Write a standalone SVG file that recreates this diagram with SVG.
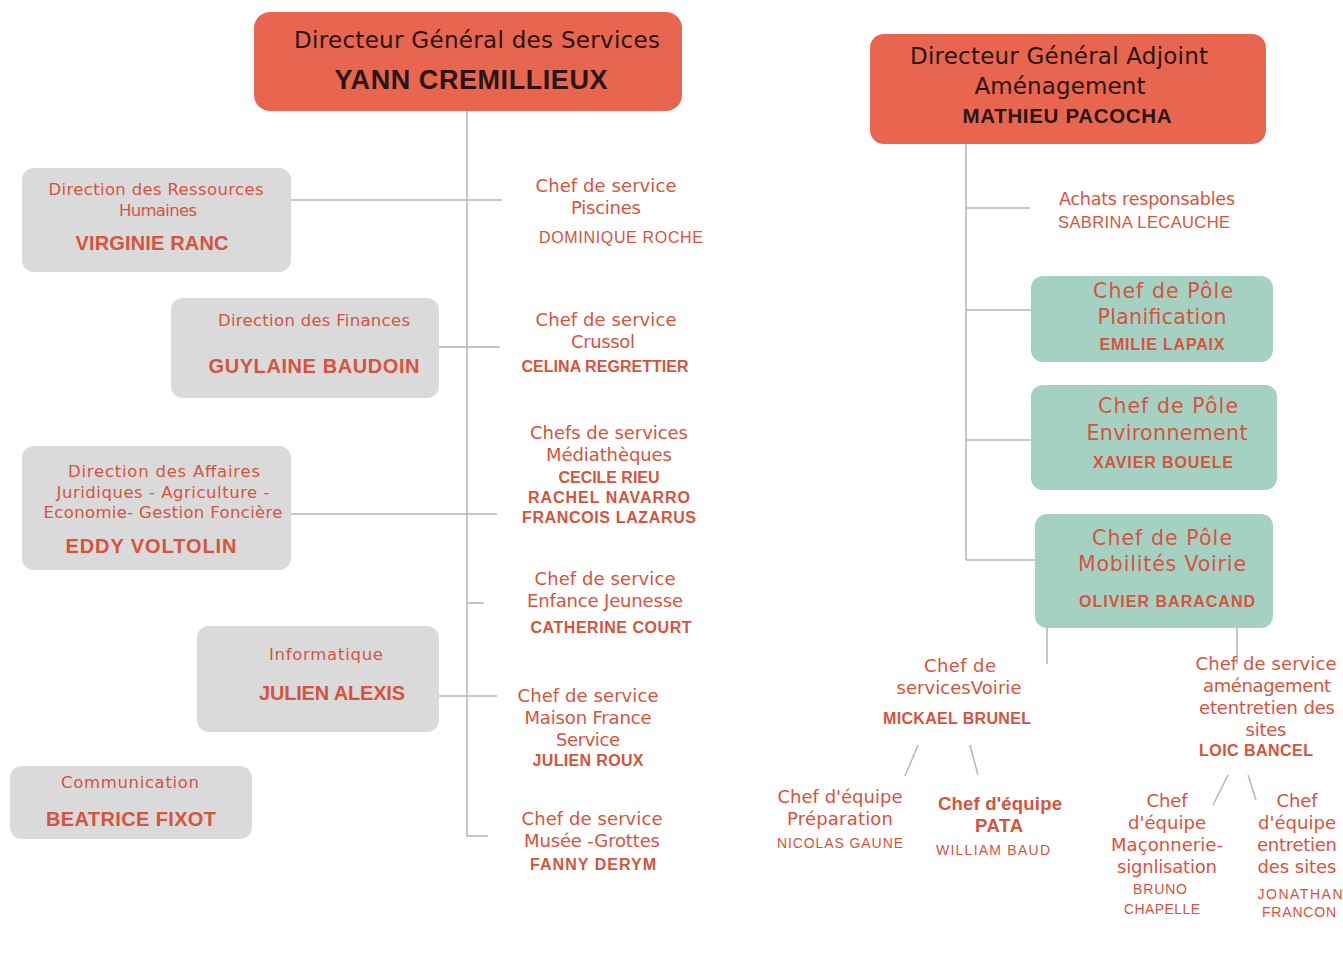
<svg xmlns="http://www.w3.org/2000/svg" width="1343" height="957" viewBox="0 0 1343 957">
<style>
text{font-family:"DejaVu Sans","Open Sans",sans-serif;text-anchor:middle}
.nm{font-family:"Liberation Sans",Arial,sans-serif;font-weight:bold}
.sm{font-family:"Liberation Sans",Arial,sans-serif}
.head{fill:#e8664f}
.gray{fill:#dadada}
.teal{fill:#a5d1c2}
.dk{fill:#2a1512}
.c{fill:#d6533e}
.t18{font-size:18px}
.g{font-size:16.5px}
.p{font-size:20.5px}
.con line{stroke:#b2b6b9;stroke-width:1.5;fill:none}
</style>
<rect width="1343" height="957" fill="#ffffff"/>
<g class="con">
<line x1="467" y1="111" x2="467" y2="836"/>
<line x1="291" y1="200" x2="502" y2="200"/>
<line x1="439" y1="347" x2="500" y2="347"/>
<line x1="291" y1="514" x2="497" y2="514"/>
<line x1="467" y1="603" x2="484" y2="603"/>
<line x1="439" y1="696" x2="497" y2="696"/>
<line x1="467" y1="836" x2="488" y2="836"/>
<line x1="966" y1="144" x2="966" y2="560"/>
<line x1="966" y1="208" x2="1030" y2="208"/>
<line x1="966" y1="310" x2="1032" y2="310"/>
<line x1="966" y1="440" x2="1032" y2="440"/>
<line x1="966" y1="560" x2="1035" y2="560"/>
<line x1="1047" y1="628" x2="1047" y2="664"/>
<line x1="1237" y1="628" x2="1237" y2="664"/>
<line x1="918" y1="745" x2="905" y2="776"/>
<line x1="970" y1="745" x2="978" y2="775"/>
<line x1="1228" y1="775" x2="1213" y2="805"/>
<line x1="1248" y1="775" x2="1256" y2="800"/>
</g>
<g id="dgs">
<rect class="head" x="254" y="12" width="428" height="99" rx="16"/>
<text class="dk" x="477" y="48" font-size="23" textLength="366">Directeur Général des Services</text>
<text class="dk nm" x="471" y="89" font-size="27" textLength="273">YANN CREMILLIEUX</text>
</g>
<g id="drh">
<rect class="gray" x="22" y="168" width="269" height="104" rx="12"/>
<text class="c g" x="156" y="195" textLength="215">Direction des Ressources</text>
<text class="c g" x="158" y="216" textLength="78">Humaines</text>
<text class="c nm" x="152" y="250" font-size="20" textLength="153">VIRGINIE RANC</text>
</g>
<g id="finances">
<rect class="gray" x="171" y="298" width="268" height="100" rx="12"/>
<text class="c g" x="314" y="326" textLength="192">Direction des Finances</text>
<text class="c nm" x="314" y="373" font-size="20" textLength="211">GUYLAINE BAUDOIN</text>
</g>
<g id="affaires">
<rect class="gray" x="22" y="446" width="269" height="124" rx="12"/>
<text class="c g" x="164" y="477" textLength="192">Direction  des Affaires</text>
<text class="c g" x="163" y="498" textLength="213">Juridiques - Agriculture -</text>
<text class="c g" x="163" y="518" textLength="239">Economie- Gestion Foncière</text>
<text class="c nm" x="151" y="553" font-size="20" textLength="171">EDDY VOLTOLIN</text>
</g>
<g id="info">
<rect class="gray" x="197" y="626" width="242" height="106" rx="12"/>
<text class="c g" x="326" y="660" textLength="114">Informatique</text>
<text class="c nm" x="332" y="700" font-size="20" textLength="146">JULIEN ALEXIS</text>
</g>
<g id="comm">
<rect class="gray" x="10" y="766" width="242" height="73" rx="12"/>
<text class="c g" x="130" y="788" textLength="138">Communication</text>
<text class="c nm" x="131" y="826" font-size="20" textLength="170">BEATRICE FIXOT</text>
</g>
<g id="piscines">
<text class="c t18" x="606" y="192" textLength="141">Chef de service</text>
<text class="c t18" x="606" y="214" textLength="70">Piscines</text>
<text class="c sm" x="621" y="243" font-size="16" textLength="164">DOMINIQUE ROCHE</text>
</g>
<g id="crussol">
<text class="c t18" x="606" y="326" textLength="141">Chef de service</text>
<text class="c t18" x="603" y="348" textLength="64">Crussol</text>
<text class="c nm" x="605" y="372" font-size="16" textLength="167">CELINA REGRETTIER</text>
</g>
<g id="mediatheques">
<text class="c t18" x="609" y="439" textLength="158">Chefs de services</text>
<text class="c t18" x="609" y="461" textLength="126">Médiathèques</text>
<text class="c nm" x="609" y="483" font-size="16" textLength="101">CECILE RIEU</text>
<text class="c nm" x="609" y="503" font-size="16" textLength="162">RACHEL NAVARRO</text>
<text class="c nm" x="609" y="523" font-size="16" textLength="174">FRANCOIS LAZARUS</text>
</g>
<g id="enfance">
<text class="c t18" x="605" y="585" textLength="141">Chef de service</text>
<text class="c t18" x="605" y="607" textLength="156">Enfance Jeunesse</text>
<text class="c nm" x="611" y="633" font-size="16" textLength="161">CATHERINE COURT</text>
</g>
<g id="maison">
<text class="c t18" x="588" y="702" textLength="141">Chef de service</text>
<text class="c t18" x="588" y="724" textLength="127">Maison France</text>
<text class="c t18" x="588" y="746" textLength="64">Service</text>
<text class="c nm" x="588" y="766" font-size="16" textLength="111">JULIEN ROUX</text>
</g>
<g id="musee">
<text class="c t18" x="592" y="825" textLength="141">Chef de service</text>
<text class="c t18" x="592" y="847" textLength="136">Musée -Grottes</text>
<text class="c nm" x="593" y="870" font-size="16" textLength="126">FANNY DERYM</text>
</g>
<g id="dga">
<rect class="head" x="870" y="34" width="396" height="110" rx="14"/>
<text class="dk" x="1059" y="64" font-size="23" textLength="298">Directeur Général Adjoint</text>
<text class="dk" x="1060" y="94" font-size="23" textLength="171">Aménagement</text>
<text class="dk nm" x="1067" y="123" font-size="20.5" textLength="209">MATHIEU PACOCHA</text>
</g>
<g id="achats">
<text class="c" x="1147" y="205" font-size="17.5" textLength="176">Achats responsables</text>
<text class="c sm" x="1144" y="228" font-size="16.5" textLength="172">SABRINA LECAUCHE</text>
</g>
<g id="planif">
<rect class="teal" x="1031" y="276" width="242" height="86" rx="12"/>
<text class="c p" x="1163" y="298" textLength="140">Chef de Pôle</text>
<text class="c p" x="1162" y="324" textLength="129">Planification</text>
<text class="c nm" x="1162" y="350" font-size="16" textLength="125">EMILIE LAPAIX</text>
</g>
<g id="env">
<rect class="teal" x="1031" y="385" width="246" height="105" rx="12"/>
<text class="c p" x="1168" y="413" textLength="140">Chef de Pôle</text>
<text class="c p" x="1167" y="440" textLength="161">Environnement</text>
<text class="c nm" x="1163" y="468" font-size="16" textLength="140">XAVIER BOUELE</text>
</g>
<g id="mobilites">
<rect class="teal" x="1035" y="514" width="238" height="114" rx="12"/>
<text class="c p" x="1162" y="545" textLength="140">Chef de Pôle</text>
<text class="c p" x="1162" y="571" textLength="168">Mobilités Voirie</text>
<text class="c nm" x="1167" y="607" font-size="16" textLength="176">OLIVIER BARACAND</text>
</g>
<g id="voirie">
<text class="c t18" x="960" y="672" textLength="72">Chef de</text>
<text class="c t18" x="959" y="694" textLength="125">servicesVoirie</text>
<text class="c nm" x="957" y="724" font-size="16" textLength="148">MICKAEL BRUNEL</text>
</g>
<g id="preparation">
<text class="c t18" x="840" y="803" textLength="125">Chef d'équipe</text>
<text class="c t18" x="840" y="825" textLength="106">Préparation</text>
<text class="c sm" x="840" y="848" font-size="14" textLength="126">NICOLAS GAUNE</text>
</g>
<g id="pata">
<text class="c nm" x="1000" y="810" font-size="18.5" textLength="124">Chef d'équipe</text>
<text class="c nm" x="999" y="832" font-size="18.5" textLength="48">PATA</text>
<text class="c sm" x="993" y="855" font-size="14" textLength="114">WILLIAM BAUD</text>
</g>
<g id="amenagement">
<text class="c t18" x="1266" y="670" textLength="141">Chef de service</text>
<text class="c t18" x="1267" y="692" textLength="128">aménagement</text>
<text class="c t18" x="1267" y="714" textLength="136">etentretien des</text>
<text class="c t18" x="1266" y="736" textLength="41">sites</text>
<text class="c nm" x="1256" y="756" font-size="16" textLength="114">LOIC BANCEL</text>
</g>
<g id="maconnerie">
<text class="c t18" x="1167" y="807" textLength="41">Chef</text>
<text class="c t18" x="1167" y="829" textLength="78">d'équipe</text>
<text class="c t18" x="1167" y="851" textLength="112">Maçonnerie-</text>
<text class="c t18" x="1167" y="873" textLength="100">signlisation</text>
<text class="c sm" x="1160" y="894" font-size="14" textLength="54">BRUNO</text>
<text class="c sm" x="1162" y="914" font-size="14" textLength="76">CHAPELLE</text>
</g>
<g id="entretien">
<text class="c t18" x="1297" y="807" textLength="41">Chef</text>
<text class="c t18" x="1297" y="829" textLength="78">d'équipe</text>
<text class="c t18" x="1297" y="851" textLength="80">entretien</text>
<text class="c t18" x="1297" y="873" textLength="79">des sites</text>
<text class="c sm" x="1300" y="899" font-size="14" textLength="85">JONATHAN</text>
<text class="c sm" x="1299" y="917" font-size="14" textLength="74">FRANCON</text>
</g>
</svg>
